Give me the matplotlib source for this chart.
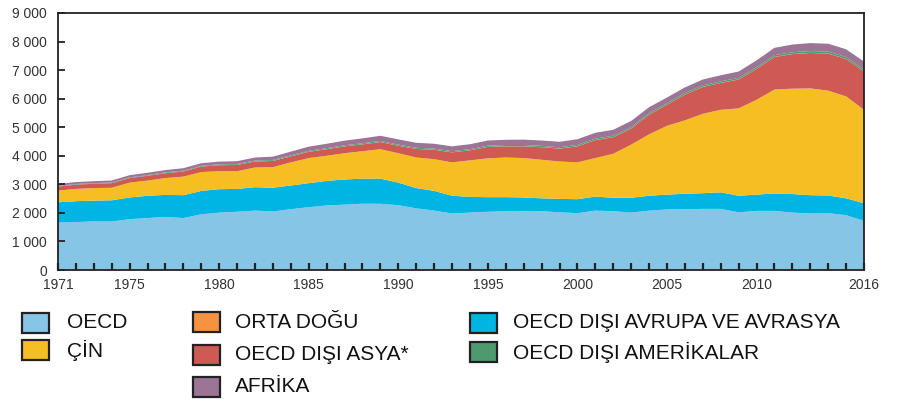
import matplotlib
matplotlib.use("Agg")
import matplotlib.pyplot as plt
from matplotlib.patches import Rectangle
from matplotlib.ticker import FuncFormatter, MultipleLocator
import numpy as np

plt.rcParams['font.family'] = ['Liberation Sans', 'DejaVu Sans']

years = list(range(1971, 2017))

oecd = [1660, 1680, 1700, 1700, 1780, 1820, 1860, 1820, 1950, 2010,
        2040, 2080, 2050, 2130, 2200, 2260, 2290, 2320, 2320, 2270,
        2160, 2080, 1980, 2010, 2040, 2060, 2070, 2060, 2020, 1990,
        2080, 2060, 2010, 2080, 2120, 2130, 2140, 2140, 2020, 2070,
        2070, 2010, 1980, 1990, 1920, 1720]
eurasia = [710, 730, 730, 740, 760, 780, 770, 800, 820, 820,
           800, 820, 830, 830, 840, 860, 880, 880, 880, 790,
           710, 690, 620, 550, 510, 490, 470, 450, 470, 490,
           490, 470, 520, 520, 520, 540, 550, 580, 580, 570,
           610, 650, 640, 620, 590, 620]
china = [410, 430, 440, 440, 520, 530, 590, 650, 660, 630,
         620, 690, 720, 810, 880, 880, 920, 960, 1030, 1030,
         1070, 1110, 1170, 1280, 1360, 1390, 1380, 1350, 1310, 1290,
         1350, 1540, 1860, 2150, 2410, 2570, 2780, 2890, 3060, 3320,
         3640, 3690, 3740, 3670, 3570, 3270]
asia = [140, 150, 150, 160, 160, 170, 170, 180, 190, 210,
        220, 210, 220, 210, 220, 230, 240, 240, 250, 260,
        300, 330, 350, 350, 400, 390, 410, 440, 450, 560,
        630, 580, 560, 690, 740, 900, 940, 940, 1010, 1080,
        1140, 1210, 1240, 1300, 1310, 1350]
middle_east = [3, 3, 3, 3, 3, 3, 3, 3, 3, 3,
               4, 4, 4, 4, 4, 4, 4, 4, 4, 4,
               4, 4, 4, 4, 4, 5, 5, 5, 5, 5,
               5, 5, 5, 5, 5, 5, 5, 5, 5, 5,
               5, 5, 5, 5, 5, 5]
americas = [20, 20, 20, 21, 22, 22, 23, 24, 25, 26,
            27, 28, 29, 30, 31, 32, 33, 34, 35, 36,
            36, 37, 38, 39, 40, 41, 42, 43, 44, 45,
            46, 47, 48, 49, 50, 51, 52, 53, 54, 55,
            58, 60, 62, 63, 62, 60]
africa = [67, 67, 67, 71, 75, 80, 84, 88, 92, 96,
          99, 108, 117, 131, 145, 154, 163, 172, 181, 185,
          175, 169, 168, 172, 181, 184, 188, 187, 191, 200,
          204, 208, 217, 206, 195, 199, 203, 212, 221, 240,
          257, 270, 278, 277, 273, 275]

series = [oecd, eurasia, china, asia, middle_east, americas, africa]
colors = ['#86C5E6', '#00B4E4', '#F5BF23', '#CE5A53', '#F7923E', '#4E9A6E', '#9B7496']

labels_legend = ['OECD', 'ÇİN', 'ORTA DOĞU', 'OECD DIŞI ASYA*', 'AFRİKA',
                 'OECD DIŞI AVRUPA VE AVRASYA', 'OECD DIŞI AMERİKALAR']
legend_colors = ['#86C5E6', '#F5BF23', '#F7923E', '#CE5A53', '#9B7496', '#00B4E4', '#4E9A6E']
xtick_years = [1971, 1975, 1980, 1985, 1990, 1995, 2000, 2005, 2010, 2016]

W, H = 897, 405
fig = plt.figure(figsize=(W / 100, H / 100), dpi=100)
ax = fig.add_axes([58 / W, 1 - 270 / H, (864 - 58) / W, (270 - 13) / H])

ax.stackplot(years, *series, colors=colors, linewidth=0, antialiased=True)

ax.set_xlim(1971, 2016)
ax.set_ylim(0, 9000)
ax.set_xticks(xtick_years)
ax.xaxis.set_minor_locator(MultipleLocator(1))
ax.yaxis.set_major_locator(MultipleLocator(1000))
ax.yaxis.set_major_formatter(FuncFormatter(lambda v, p: f"{int(v):,}".replace(",", " ")))

for s in ax.spines.values():
    s.set_linewidth(1.3)
    s.set_color('#222222')
    s.set_zorder(5)

ax.tick_params(axis='y', which='major', direction='in', length=5, width=1.3,
               color='#222222', labelsize=10, labelcolor='#333333', pad=8)
ax.tick_params(axis='x', which='both', direction='in', length=5, width=1.6,
               color='#222222', labelsize=10, labelcolor='#333333', pad=6)
ax.tick_params(axis='x', which='minor', labelbottom=False)
# lift the "0" label slightly, as in the reference
for lbl in ax.get_yticklabels():
    lbl.set_verticalalignment('center_baseline')

# Legend drawn in figure pixel coordinates
def fx(x):
    return x / W

def fy(y):
    return 1 - y / H

entries = [
    (22, 323, 67, 0), (22, 350, 67, 1),
    (193, 322, 235, 2), (193, 355, 235, 3), (193, 387, 235, 4),
    (470, 323, 513, 5), (470, 352, 513, 6),
]
pw, ph = 27, 20
for px, cy, tx, i in entries:
    fig.add_artist(Rectangle((fx(px), fy(cy + ph / 2)), pw / W, ph / H,
                             transform=fig.transFigure, facecolor=legend_colors[i],
                             edgecolor='#222222', linewidth=1.6))
    fig.text(fx(tx), fy(cy), labels_legend[i], ha='left', va='center',
             fontsize=15, color='#111111')

fig.savefig('out.png', dpi=100)
